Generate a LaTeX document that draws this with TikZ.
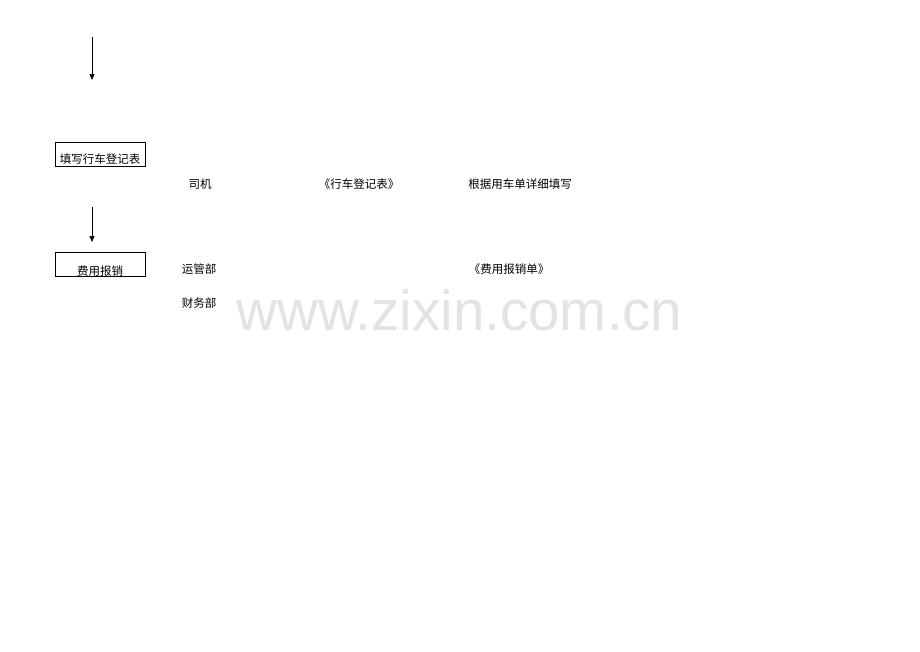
\documentclass[tikz,border=0pt]{standalone}
\usepackage{fontspec}
\newfontfamily\cjk{Noto Sans CJK SC}
\newfontfamily\wmfont{Liberation Sans}
\usepackage{tikz}
\usetikzlibrary{arrows.meta, positioning}

\begin{document}
\begin{tikzpicture}[->,>={Triangle[length=6pt,width=5pt]},x=1pt,y=-1pt,semithick,
    step box/.style={draw,-,thin,rectangle,minimum width=90pt,inner xsep=0pt,
        font=\cjk\fontsize{11.5}{12}\selectfont},
    lbl/.style={font=\cjk\fontsize{11.5}{12}\selectfont,inner sep=0pt}]
			\useasboundingbox (0,0) rectangle (920,651);
			\coordinate (s0) at (92,37);
			\coordinate (e0) at (92,80);
			\node[step box, text height=18.5pt, text depth=0pt, inner ysep=2.75pt] (reg) at (100,154) {填写行车登记表};
			\coordinate (s1) at (92,207);
			\coordinate (e1) at (92,242);
			\node[step box, text height=21pt, text depth=0pt, inner ysep=1.5pt] (pay) at (100,264.5) {费用报销};
			\node[lbl] (driver) at (200,184) {司机};
			\node[lbl] (form) at (359,184) {《行车登记表》};
			\node[lbl] (note) at (520,184) {根据用车单详细填写};
			\node[lbl] (ops) at (199,269) {运管部};
			\node[lbl] (bill) at (509,269) {《费用报销单》};
			\node[lbl] (fin) at (199,303) {财务部};
			\node[font=\wmfont\fontsize{56.5}{60}\selectfont,text=black!11,inner sep=0pt] (wm) at (459.5,310) {www.zixin.com.cn};
			\draw (s0) -- (e0);
			\draw (s1) -- (e1);
		\end{tikzpicture}
\end{document}
